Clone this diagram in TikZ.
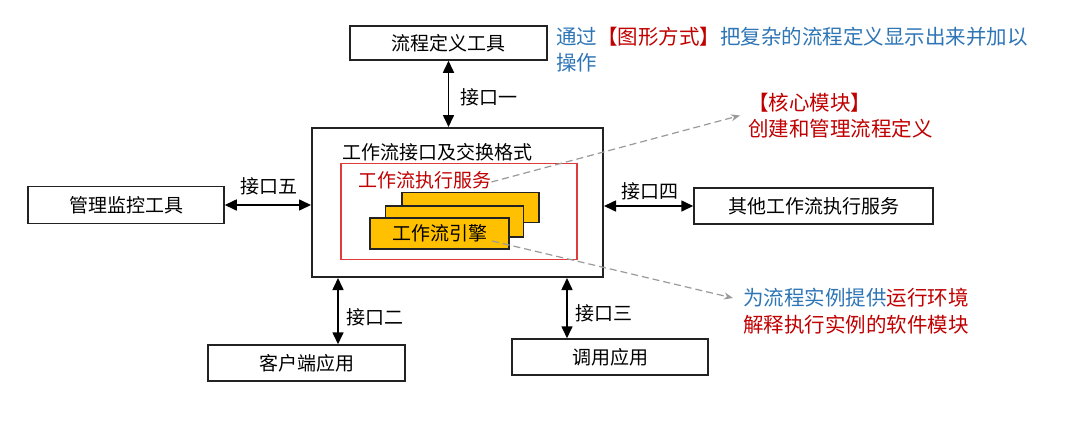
\documentclass[tikz,border=0pt]{standalone}
\usepackage{fontspec}
\setmainfont{Noto Sans CJK SC}
\usetikzlibrary{arrows.meta,calc}
\definecolor{cblue}{HTML}{2E75B6}
\definecolor{cred}{HTML}{C00000}
\definecolor{boxred}{HTML}{E03C3C}
\definecolor{cyellow}{HTML}{FFC000}
\definecolor{cline}{HTML}{222222}
\definecolor{cgray}{HTML}{9A9A9A}
\begin{document}
\begin{tikzpicture}[x=1pt,y=-1pt,
  txt/.style={font=\fontsize{19}{23}\selectfont, text=black},
  sbox/.style={draw=cline, line width=1.5pt, fill=white, inner sep=0pt, txt},
  ybox/.style={draw=cline, line width=1.2pt, fill=cyellow, inner sep=0pt, txt},
  biarrow/.style={{Triangle[length=12pt,width=11pt]}-{Triangle[length=12pt,width=11pt]}, line width=1.6pt, draw=black},
  dasharrow/.style={-{Stealth[length=9pt,width=7pt]}, draw=cgray, line width=1.2pt, dash pattern=on 7pt off 4pt},
  lbl/.style={txt, inner sep=0pt},
  ann/.style={font=\fontsize{20.5}{26}\selectfont, inner sep=0pt, align=left}
]
\useasboundingbox (0,0) rectangle (1091,442);

% central boxes
\node[draw=cline, line width=2pt, minimum width=291pt, minimum height=149pt, inner sep=0pt] (big) at (457.5,202.5) {};
\node[lbl, anchor=west] (iface) at (342,152) {工作流接口及交换格式};
\node[draw=boxred, line width=1.5pt, minimum width=236pt, minimum height=96pt, inner sep=0pt] (redb) at (459,211.5) {};
\node[lbl, anchor=west, text=cred] (exec) at (358,180) {工作流执行服务};
\node[ybox, minimum width=137pt, minimum height=30pt] (yb) at (470.5,207.5) {};
\node[ybox, minimum width=138pt, minimum height=31pt] (ym) at (454.5,221.5) {};
\node[ybox, minimum width=139pt, minimum height=31pt] (eng) at (439.5,233.5) {工作流引擎};
\coordinate (engtip) at (492,241);

% outer boxes
\node[sbox, minimum width=197pt, minimum height=34pt] (tool) at (448.5,43) {流程定义工具};
\node[sbox, minimum width=196pt, minimum height=37pt] (mon) at (126,205) {管理监控工具};
\node[sbox, minimum width=239pt, minimum height=36pt] (other) at (813.5,206) {其他工作流执行服务};
\node[sbox, minimum width=197pt, minimum height=36pt] (client) at (306.5,363) {客户端应用};
\node[sbox, minimum width=196pt, minimum height=36pt] (call) at (610,357) {调用应用};

% interface arrows
\draw[biarrow] (tool.south) -- (tool.south |- big.north);
\node[lbl, anchor=west] (if1) at (460,97) {接口一};
\draw[biarrow] (mon.east) -- (mon.east -| big.west);
\node[lbl, anchor=center] (if5) at (268.5,186) {接口五};
\draw[biarrow] (other.west) -- (other.west -| big.east);
\node[lbl, anchor=center] (if4) at (650,191) {接口四};
\draw[biarrow] ([xshift=31.5pt]client.north) -- ([xshift=31.5pt]client.north |- big.south);
\node[lbl, anchor=west] (if2) at (346,317) {接口二};
\draw[biarrow] ([xshift=-43pt]call.north) -- ([xshift=-43pt]call.north |- big.south);
\node[lbl, anchor=west] (if3) at (575,313) {接口三};

% annotations
\node[ann, anchor=north west, text=cblue] (ann1) at (556,27)
  {通过\textcolor{cred}{【图形方式】}把复杂的流程定义显示出来并加以\\操作};
\node[ann, anchor=west, text=cred] (ann2) at (748,115.5)
  {【核心模块】\\创建和管理流程定义};
\node[ann, anchor=west, text=cblue] (ann3a) at (743,298)
  {为流程实例提供\textcolor{cred}{运行环境}};
\node[ann, anchor=west, text=cred] (ann3b) at (743,325)
  {解释执行实例的软件模块};

\draw[dasharrow] ([yshift=-2pt]exec.east) -- ([xshift=-8pt]ann2.west);
\draw[dasharrow] (engtip) -- ([xshift=-10pt]ann3a.west);
\end{tikzpicture}
\end{document}
